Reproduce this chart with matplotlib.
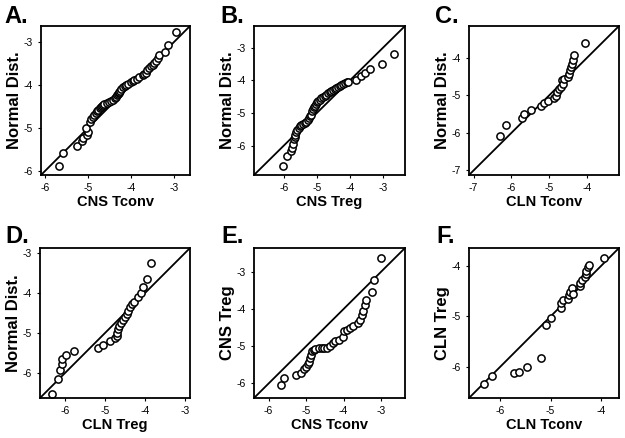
import matplotlib
matplotlib.use("Agg")
import matplotlib.pyplot as plt

plt.rcParams['font.family'] = ['Liberation Sans', 'DejaVu Sans']

# ---- data (QQ plots) ----
a_x = [-5.67, -5.58, -5.25, -5.13, -5.12, -5.02, -5.00, -5.04, -4.96, -4.92, -4.88, -4.85,
       -4.81, -4.79, -4.77, -4.73, -4.69, -4.67, -4.65, -4.62, -4.55, -4.50, -4.46, -4.42,
       -4.38, -4.35, -4.33, -4.31, -4.29, -4.27, -4.25, -4.23, -4.19, -4.15, -4.12, -4.07,
       -4.00, -3.96, -3.92, -3.86, -3.81, -3.73, -3.69, -3.65, -3.62, -3.58, -3.54, -3.50,
       -3.46, -3.42, -3.38, -3.35, -3.22, -3.15, -2.96]
a_y = [-5.88, -5.59, -5.41, -5.29, -5.24, -5.16, -5.09, -5.01, -4.85, -4.78, -4.74, -4.70,
       -4.64, -4.60, -4.58, -4.54, -4.50, -4.49, -4.47, -4.43, -4.42, -4.39, -4.37, -4.35,
       -4.31, -4.27, -4.24, -4.21, -4.19, -4.16, -4.13, -4.10, -4.04, -4.02, -4.00, -3.97,
       -3.92, -3.90, -3.88, -3.85, -3.81, -3.77, -3.75, -3.73, -3.65, -3.61, -3.57, -3.54,
       -3.50, -3.44, -3.38, -3.30, -3.24, -3.07, -2.78]

b_x = [-6.02, -5.89, -5.79, -5.75, -5.72, -5.69, -5.67, -5.65, -5.62, -5.59, -5.55, -5.52,
       -5.47, -5.42, -5.37, -5.32, -5.28, -5.24, -5.21, -5.18, -5.14, -5.11, -5.08, -5.04,
       -5.01, -4.98, -4.96, -4.91, -4.86, -4.81, -4.76, -4.71, -4.66, -4.61, -4.56, -4.51,
       -4.46, -4.41, -4.36, -4.31, -4.26, -4.21, -4.16, -4.10, -4.04, -3.80, -3.65, -3.53,
       -3.38, -3.03, -2.67]
b_y = [-6.63, -6.33, -6.17, -6.07, -5.94, -5.80, -5.73, -5.67, -5.59, -5.51, -5.46, -5.41,
       -5.37, -5.33, -5.30, -5.26, -5.21, -5.16, -5.10, -5.05, -4.95, -4.89, -4.82, -4.77,
       -4.72, -4.67, -4.63, -4.59, -4.55, -4.51, -4.48, -4.44, -4.39, -4.35, -4.31, -4.28,
       -4.25, -4.22, -4.19, -4.16, -4.14, -4.11, -4.09, -4.06, -4.04, -3.99, -3.86, -3.78,
       -3.66, -3.50, -3.20]

c_x = [-6.31, -6.14, -5.73, -5.66, -5.48, -5.22, -5.13, -5.03, -4.87, -4.81, -4.79, -4.73,
       -4.69, -4.67, -4.64, -4.60, -4.51, -4.47, -4.45, -4.41, -4.39, -4.37, -4.34, -4.06]
c_y = [-6.08, -5.78, -5.61, -5.50, -5.38, -5.29, -5.20, -5.14, -5.08, -5.01, -4.92, -4.84,
       -4.78, -4.60, -4.69, -4.56, -4.51, -4.42, -4.33, -4.24, -4.15, -4.06, -3.91, -3.59]

d_x = [-6.33, -6.19, -6.13, -6.08, -6.08, -5.98, -5.79, -5.18, -5.06, -4.88, -4.75, -4.71,
       -4.69, -4.67, -4.64, -4.61, -4.56, -4.50, -4.46, -4.42, -4.38, -4.33, -4.28, -4.17,
       -4.10, -4.04, -3.96, -3.86]
d_y = [-6.52, -6.15, -5.93, -5.79, -5.66, -5.56, -5.45, -5.37, -5.29, -5.20, -5.13, -5.08,
       -4.99, -4.91, -4.82, -4.74, -4.67, -4.61, -4.53, -4.45, -4.36, -4.28, -4.22, -4.11,
       -4.00, -3.86, -3.65, -3.25]

e_x = [-5.67, -5.58, -5.27, -5.14, -5.05, -5.01, -4.96, -4.92, -4.89, -4.88, -4.83, -4.79,
       -4.75, -4.66, -4.58, -4.53, -4.44, -4.35, -4.28, -4.22, -4.13, -4.02, -4.00, -3.90,
       -3.82, -3.74, -3.61, -3.56, -3.52, -3.47, -3.43, -3.41, -3.25, -3.18, -2.99]
e_y = [-6.03, -5.85, -5.77, -5.73, -5.61, -5.55, -5.48, -5.41, -5.32, -5.23, -5.14, -5.11,
       -5.08, -5.04, -5.05, -5.05, -5.04, -4.99, -4.92, -4.87, -4.83, -4.74, -4.60, -4.55,
       -4.51, -4.45, -4.38, -4.29, -4.17, -4.06, -3.88, -3.75, -3.54, -3.23, -2.62]

f_x = [-6.33, -6.16, -5.73, -5.63, -5.46, -5.18, -5.10, -5.00, -4.80, -4.80, -4.75, -4.65,
       -4.63, -4.62, -4.58, -4.56, -4.42, -4.41, -4.37, -4.32, -4.30, -4.29, -4.25, -4.23,
       -3.93]
f_y = [-6.34, -6.18, -6.12, -6.10, -6.01, -5.82, -5.17, -5.03, -4.83, -4.73, -4.68, -4.65,
       -4.58, -4.51, -4.44, -4.55, -4.40, -4.34, -4.28, -4.22, -4.15, -4.09, -4.02, -3.97,
       -3.83]

panels = [
    ("A.", a_x, a_y, "CNS Tconv", "Normal Dist.", (-6.09, -2.63), [-6, -5, -4, -3]),
    ("B.", b_x, b_y, "CNS Treg", "Normal Dist.", (-6.9, -2.33), [-6, -5, -4, -3]),
    ("C.", c_x, c_y, "CLN Tconv", "Normal Dist.", (-7.12, -3.15), [-7, -6, -5, -4]),
    ("D.", d_x, d_y, "CLN Treg", "Normal Dist.", (-6.63, -2.87), [-6, -5, -4, -3]),
    ("E.", e_x, e_y, "CNS Tconv", "CNS Treg", (-6.39, -2.36), [-6, -5, -4, -3]),
    ("F.", f_x, f_y, "CLN Tconv", "CLN Treg", (-6.62, -3.64), [-6, -5, -4]),
]

W, H = 625, 438
fig = plt.figure(figsize=(6.25, 4.38), dpi=100)

# axes boxes in pixels: left, top, width, height
boxes = [(41, 26, 149, 149), (254, 26, 151, 149), (469, 26, 150, 149),
         (40, 248, 150, 150), (254, 248, 151, 150), (469, 248, 150, 150)]
letter_pos = [(4, 23), (220, 23), (435, 23), (5, 243), (221, 243), (436, 243)]

for (letter, xs, ys, xl, yl, lim, ticks), box, lp in zip(panels, boxes, letter_pos):
    l, t, w, h = box
    ax = fig.add_axes([l / W, 1 - (t + h) / H, w / W, h / H])
    ax.plot(lim, lim, color='black', lw=1.3, zorder=1)
    ax.plot(xs, ys, linestyle='none', marker='o', markersize=5.2,
            markerfacecolor='white', markeredgecolor='black', markeredgewidth=1.1, zorder=2)
    ax.set_xlim(lim)
    ax.set_ylim(lim)
    ax.set_xticks(ticks)
    ax.set_yticks(ticks)
    ax.set_xticklabels([str(v) for v in ticks])
    ax.set_yticklabels([str(v) for v in ticks])
    ax.tick_params(direction='out', length=2.5, width=0.8, labelsize=7.5, pad=3.5)
    for s in ax.spines.values():
        s.set_linewidth(1.3)
    ax.set_xlabel(xl, fontsize=10.5, fontweight='bold', labelpad=1)
    ax.set_ylabel(yl, fontsize=12, fontweight='bold', labelpad=1)
    fig.text(lp[0] / W, 1 - lp[1] / H, letter, fontsize=17, fontweight='bold',
             ha='left', va='baseline')

fig.savefig("out.png", dpi=100)
